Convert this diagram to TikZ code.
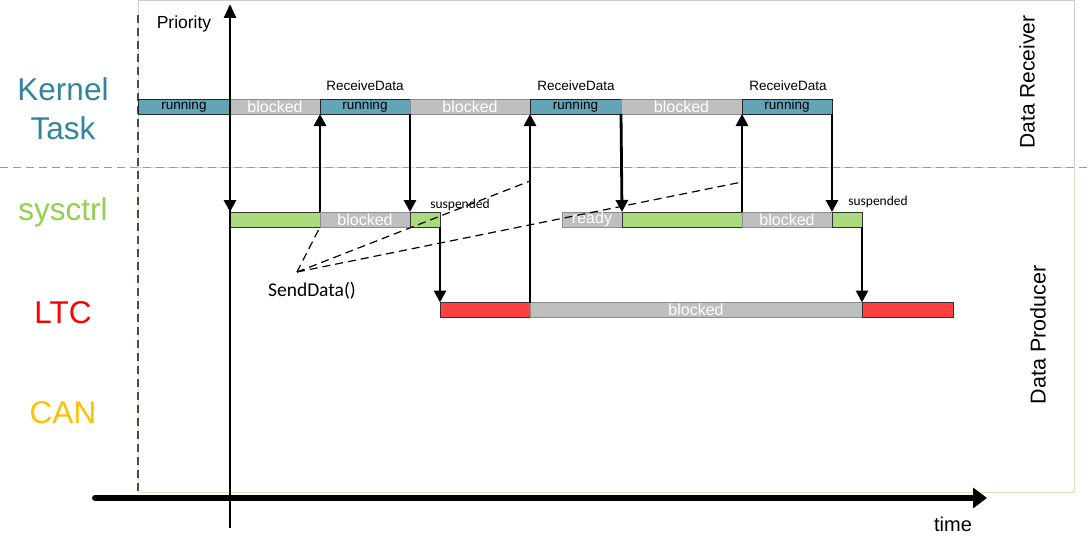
\documentclass[tikz,border=0pt]{standalone}
\usepackage{fontspec}
\setmainfont{Liberation Sans}
\newfontfamily\calib{Carlito}
\usetikzlibrary{arrows.meta}
\definecolor{runcol}{HTML}{63A4B6}
\definecolor{blkcol}{HTML}{BFBFBF}
\definecolor{grncol}{HTML}{A9DA7B}
\definecolor{redcol}{HTML}{FF4040}
\definecolor{ktcol}{HTML}{31859C}
\definecolor{syscol}{HTML}{92D050}
\definecolor{ltccol}{HTML}{FF0000}
\definecolor{cancol}{HTML}{FFC000}
\definecolor{prodbox}{HTML}{D7E4BD}
\newcommand{\fs}[1]{\fontsize{#1}{#1}\selectfont}
\begin{document}
\begin{tikzpicture}[x=1pt,y=-1pt,
  bar/.style={draw, minimum height=15, inner sep=0pt, outer sep=0pt, anchor=west, line width=0.8pt},
  runseg/.style={bar, fill=runcol, draw=black!85, text=black, font=\fs{13.5}},
  blkseg/.style={bar, fill=blkcol, draw=gray!90, text=white, font=\fs{16}},
  grnseg/.style={bar, fill=grncol, draw=black!80},
  redseg/.style={bar, fill=redcol, draw=black!80},
  tasklabel/.style={font=\fs{31.5}, align=center},
  small/.style={font=\calib\fs{13.5}},
  rdlabel/.style={font=\fs{13.5}},
  arr/.style={line width=2.8pt, -{Triangle[length=12pt,width=12pt]}},
  sendline/.style={dashed, dash pattern=on 8pt off 5pt, line width=1.2pt}
]
\useasboundingbox (0,0) rectangle (1091,551);
% frames
\draw[gray!40, line width=1pt] (138,1) rectangle (1074,167);
\draw[prodbox, line width=1pt] (138,167) rectangle (1074,492);
\draw[black!70, dashed, dash pattern=on 8pt off 5pt, line width=1.5pt] (138,15) -- (138,492);
\draw[gray!80, dashed, dash pattern=on 8pt off 5pt, line width=1pt] (0,167) -- (1091,167);

% task labels
\node[font=\fs{31.5}, text=ktcol] (kt1) at (63,89) {Kernel};
\node[font=\fs{31.5}, text=ktcol] (kt2) at (63,128) {Task};
\node[tasklabel, text=syscol] (sy) at (63,212) {sysctrl};
\node[tasklabel, text=ltccol] (ltc) at (63,313) {LTC};
\node[tasklabel, text=cancol] (can) at (63,413) {CAN};

% kernel task row
\node[runseg, minimum width=92] (k1) at (138,106.5) {running};
\node[blkseg, minimum width=90] (k2) at (230,106.5) {blocked};
\node[runseg, minimum width=90] (k3) at (320,106.5) {running};
\node[blkseg, minimum width=120] (k4) at (410,106.5) {blocked};
\node[runseg, minimum width=91] (k5) at (530,106.5) {running};
\node[blkseg, minimum width=121] (k6) at (621,106.5) {blocked};
\node[runseg, minimum width=90] (k7) at (742,106.5) {running};
\node[rdlabel] (rd1) at (365,86) {ReceiveData};
\node[rdlabel] (rd2) at (576,86) {ReceiveData};
\node[rdlabel] (rd3) at (788,86) {ReceiveData};

% sysctrl row
\node[grnseg, minimum width=90] (s1) at (230,219.5) {};
\node[blkseg, minimum width=90] (s2) at (320,219.5) {blocked};
\node[grnseg, minimum width=30] (s3) at (410,219.5) {};
\node[blkseg, minimum width=60] (s4) at (562,219.5) {ready};
\node[grnseg, minimum width=120] (s5) at (622,219.5) {};
\node[blkseg, minimum width=90] (s6) at (742,219.5) {blocked};
\node[grnseg, minimum width=30] (s7) at (832,219.5) {};
\node[small] (su1) at (460,205) {suspended};
\node[small] (su2) at (878,202) {suspended};

% LTC row
\node[redseg, minimum width=90] (l1) at (440,310) {};
\node[blkseg, minimum width=332] (l2) at (530,310) {blocked};
\node[redseg, minimum width=91] (l3) at (862,310) {};

% axes
\draw[line width=2.8pt, -{Triangle[length=14pt,width=12pt]}] (230,528) -- (230,4);
\node[font=\fs{17.5}] (prio) at (184,24) {Priority};
\draw[line width=6pt, line cap=round, -{Triangle[length=14pt,width=20pt]}] (95,498) -- (987,498);
\node[font=\fs{20}] (time) at (953,524) {time};

% switches
\draw[arr] (k1.south east) -- (s1.north west);
\draw[arr] (s2.north west) -- (k3.south west);
\draw[arr] (k3.south east) -- (s3.north west);
\draw[arr] (s3.south east) -- (l1.north west);
\draw[arr] (l1.north east) -- (k5.south west);
\draw[arr] (k5.south east) -- (s5.north west);
\draw[arr] (s5.north east) -- (k7.south west);
\draw[arr] (k7.south east) -- (s7.north west);
\draw[arr] (s7.south east) -- (l3.north west);

% SendData
\node[font=\calib\fs{19.5}] (sd) at (312,291) {SendData()};
\coordinate (apex) at (297,272);
\coordinate (d1) at (530,181);
\coordinate (d2) at (742,182);
\draw[sendline] (apex) -- (s2.south west);
\draw[sendline] (apex) -- (d1);
\draw[sendline] (apex) -- (d2);

% side labels
\node[rotate=90, font=\fs{21}] (dr) at (1027,82) {Data Receiver};
\node[rotate=90, font=\fs{21.5}] (dp) at (1038,335) {Data Producer};
\end{tikzpicture}
\end{document}
